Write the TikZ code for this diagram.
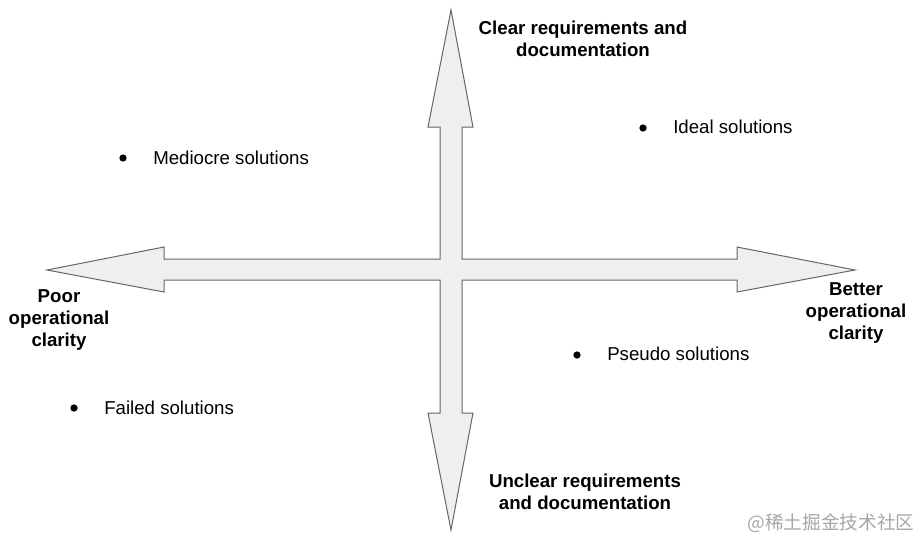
\documentclass[tikz,border=0pt]{standalone}
\usepackage{fontspec}
\setmainfont{Liberation Sans}
\newfontfamily\cjkfont{Noto Sans CJK SC}
\definecolor{arrowfill}{HTML}{EFEFEF}
\definecolor{arrowline}{HTML}{666666}
\tikzset{
    axislabel/.style={font=\fontsize{14}{16.5}\selectfont\bfseries,align=center,inner sep=0pt},
    quadtext/.style={font=\fontsize{14}{16.5}\selectfont,anchor=west,inner sep=0pt},
    dot/.style={circle,fill=black,inner sep=0pt,minimum size=5.5pt}
}
\begin{document}
\begin{tikzpicture}[x=0.75pt,y=-0.75pt]
                \useasboundingbox (0,0) rectangle (918,540);
                % the cross of four arrows
                \draw[fill=arrowfill,draw=arrowline,line width=0.75pt,line join=miter]
                    (451,10) -- (473,127) -- (462,127) -- (462,259) -- (737,259) -- (737,247)
                    -- (855,270) -- (737,292) -- (737,280) -- (462,280) -- (462,413) -- (473,413)
                    -- (451,530) -- (428,413) -- (440,413) -- (440,280) -- (164,280) -- (164,292)
                    -- (47,270) -- (164,247) -- (164,259) -- (440,259) -- (440,127) -- (428,127) -- cycle;
                \node[axislabel] (clear) at (583,39) {Clear requirements and\\documentation};
                \node[axislabel] (unclear) at (585,492) {Unclear requirements\\and documentation};
                \node[axislabel] (poor) at (59,320) {Poor\\operational\\clarity};
                \node[axislabel] (better) at (856,313) {Better\\operational\\clarity};
                % quadrants
                \node[dot] (d1) at (123,158) {};
                \node[quadtext] (mediocre) at (153,158) {Mediocre solutions};
                \node[dot] (d2) at (643,128) {};
                \node[quadtext] (ideal) at (673,127) {Ideal solutions};
                \node[dot] (d3) at (577,355) {};
                \node[quadtext] (pseudo) at (607,354) {Pseudo solutions};
                \node[dot] (d4) at (74,408) {};
                \node[quadtext] (failed) at (104,408) {Failed solutions};
                \node[font=\cjkfont\fontsize{14}{16}\selectfont,text=black!35,inner sep=0pt] (mark) at (831,523) {@稀土掘金技术社区};
\end{tikzpicture}
\end{document}
